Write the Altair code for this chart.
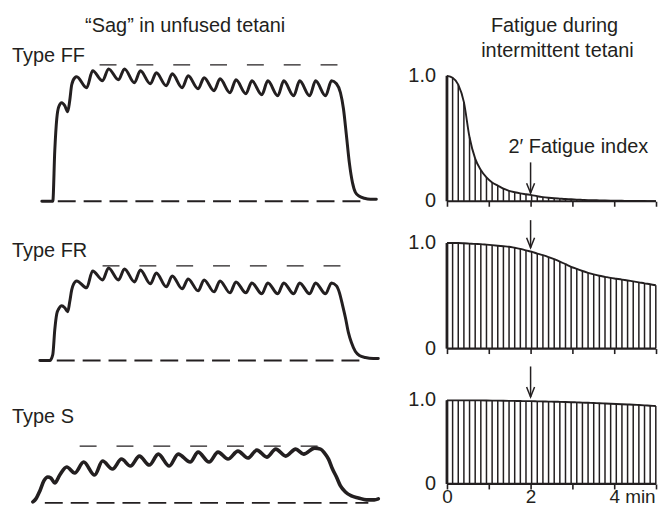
import altair as alt
import pandas as pd

INK = "#231f20"
FONT = "Liberation Sans"
FS = 20

# ---------------- Left column: unfused tetani (time and force in arbitrary units) ----------------
ff_time = [42, 53, 55, 57, 59, 62, 65, 68, 70, 72, 75,
           77, 87, 93, 103, 109, 119, 125, 135, 141, 151, 157, 167, 173, 183, 189, 199, 205, 215,
           221, 231, 237, 247, 253, 263, 269, 279, 285, 295, 301, 311, 317, 327, 333,
           338, 342, 345, 348, 351, 354, 357, 361, 366, 372, 378]
ff_force = [0, 0, 51, 83, 95, 99, 96, 90, 101, 117, 124,
            125, 114, 131, 121, 133, 122, 133, 119, 131, 118, 129, 116, 128, 114, 126, 113, 124, 111,
            123, 109, 122, 108, 121, 107, 121, 106, 121, 106, 121, 106, 121, 106, 121,
            118, 109, 93, 66, 38, 19, 9, 5, 3, 2, 2]

fr_time = [40, 50, 53, 55, 57, 59, 62, 65, 68, 70, 72, 74,
           77, 87, 93, 103, 109, 119, 125, 135, 141, 151, 157, 167, 173, 183, 189, 199, 205, 215,
           221, 231, 237, 247, 253, 263, 269, 279, 285, 295, 301, 311, 317, 327, 333,
           338, 341, 344, 347, 350, 353, 357, 361, 367, 375, 380]
fr_force = [0, 0, 6, 31, 47, 52, 55, 53, 49, 59, 71, 77,
            80, 73, 90, 81, 93, 81, 92, 79, 91, 77, 88, 74, 85, 72, 82, 70, 81, 69,
            80, 68, 79, 68, 78, 67, 78, 67, 78, 67, 78, 67, 78, 67, 78,
            75, 68, 56, 43, 28, 18, 9, 5, 3, 2, 2]

s_time = [33, 36, 40, 44, 48, 51, 55, 60,
          67, 75, 84, 95, 103, 113, 122, 131, 140, 150,
          159, 170, 179, 191, 199, 210, 219, 229, 239, 249,
          258, 268, 277, 287, 297, 305, 316,
          322, 326, 330, 334, 338, 342, 347, 353, 360, 368, 376, 380]
s_force = [1, 4, 12, 22, 26, 25, 20, 28,
           36, 30, 41, 28, 42, 34, 44, 37, 47, 38,
           49, 37, 49, 41, 51, 41, 51, 44, 52, 45,
           53, 46, 54, 47, 54, 49, 55,
           54, 50, 44, 34, 26, 17, 11, 7, 5, 3, 3, 4]

# reference (dashed) levels: initial peak level and baseline, with their time spans
ff_peak_level, ff_peak_span, ff_base_span = 137, [100, 342], [58, 363]
fr_peak_level, fr_peak_span, fr_base_span = 95, [103, 343], [57, 362]
s_peak_level, s_peak_span, s_base_span = 57, [80, 323], [45, 370]

# ---------------- Right column: fatigue during intermittent tetani ----------------
bar_t = [0, 0.135, 0.27, 0.405, 0.54, 0.675, 0.81, 0.945, 1.08, 1.215, 1.35, 1.485, 1.62,
         1.755, 1.89, 2.025, 2.16, 2.295, 2.43, 2.565, 2.7, 2.835, 2.97, 3.105, 3.24, 3.375,
         3.51, 3.645, 3.78, 3.915, 4.05, 4.185, 4.32, 4.455, 4.59, 4.725, 4.86, 4.995]
ff_bars = [1.0, 0.985, 0.93, 0.79, 0.51, 0.34, 0.25, 0.19, 0.15, 0.125, 0.10, 0.083, 0.072,
           0.063, 0.056, 0.049, 0.04, 0.033, 0.028, 0.024, 0.021, 0.018, 0.016, 0.013, 0.011, 0.009,
           0.008, 0.007, 0.006, 0.005, 0.004, 0.004, 0.003, 0.003, 0.002, 0.002, 0.001, 0.001]
fr_bars = [1.0, 1.0, 1.0, 0.998, 0.995, 0.992, 0.99, 0.985, 0.98, 0.975, 0.97, 0.965, 0.955,
           0.945, 0.93, 0.918, 0.90, 0.885, 0.867, 0.847, 0.825, 0.80, 0.775, 0.755, 0.735, 0.718,
           0.703, 0.69, 0.68, 0.67, 0.662, 0.654, 0.645, 0.637, 0.628, 0.618, 0.61, 0.60]
s_bars = [1.0, 1.0, 1.0, 1.0, 1.0, 1.0, 0.999, 0.998, 0.997, 0.996, 0.995, 0.994, 0.993,
          0.992, 0.99, 0.99, 0.988, 0.987, 0.985, 0.984, 0.982, 0.98, 0.978, 0.976, 0.973, 0.971,
          0.968, 0.966, 0.963, 0.96, 0.957, 0.954, 0.951, 0.948, 0.944, 0.94, 0.936, 0.932]

x_ticks = [0, 1, 2, 3, 4, 5]
y_tick_values = [0, 1.0]
y_tick_labels = ["0", "1.0"]
index_time = 2  # 2-minute fatigue index
arrow_top = [0.31, 1.217, 1.405]
arrow_tip = [0.065, 0.955, 1.04]


def txt(label, x, y, align="left", baseline="middle", size=FS):
    return alt.Chart(pd.DataFrame({"s": [label]})).mark_text(
        font=FONT, fontSize=size, color=INK, align=align, baseline=baseline
    ).encode(x=alt.value(x), y=alt.value(y), text="s:N")


def left_panel(t, f, peak_level, peak_span, base_span, ydom, height, lw, texts):
    xs = alt.Scale(domain=[8, 388], nice=False, zero=False)
    ys = alt.Scale(domain=ydom, nice=False, zero=False)
    trace = alt.Chart(pd.DataFrame({"t": t, "f": f})).mark_line(
        interpolate="monotone", color=INK, strokeWidth=lw, strokeCap="round", strokeJoin="round"
    ).encode(x=alt.X("t:Q", scale=xs, axis=None), y=alt.Y("f:Q", scale=ys, axis=None))
    top = alt.Chart(pd.DataFrame({"a": [peak_span[0]], "b": [peak_span[1]], "lv": [peak_level]})).mark_rule(
        color=INK, strokeWidth=1.3, strokeDash=[17, 20]
    ).encode(x=alt.X("a:Q", scale=xs, axis=None), x2="b:Q", y=alt.Y("lv:Q", scale=ys, axis=None))
    base = alt.Chart(pd.DataFrame({"a": [base_span[0]], "b": [base_span[1]], "lv": [0]})).mark_rule(
        color=INK, strokeWidth=2, strokeDash=[18, 8]
    ).encode(x=alt.X("a:Q", scale=xs, axis=None), x2="b:Q", y=alt.Y("lv:Q", scale=ys, axis=None))
    layers = [base, top, trace] + texts
    return alt.layer(*layers).properties(width=380, height=height)


def right_panel(vals, height, ymax, k, show_labels, texts):
    xs = alt.Scale(domain=[-1.452, 5.024], nice=False, zero=False)
    ys = alt.Scale(domain=[0, ymax], nice=False, zero=False)
    axis_kw = dict(values=x_ticks, domain=False, ticks=True, tickSize=5, tickWidth=1.6,
                   tickColor=INK, grid=False, title=None, labels=show_labels)
    if show_labels:
        axis_kw.update(labelExpr="datum.value % 2 == 0 && datum.value < 5 ? datum.value : ''",
                       labelFont=FONT, labelFontSize=19, labelColor=INK, labelPadding=-1,
                       labelFlush=False, labelOverlap=False)
    ax = alt.Axis(**axis_kw)
    X = lambda f: alt.X(f, scale=xs, axis=ax)
    Y = lambda f: alt.Y(f, scale=ys, axis=None)
    df = pd.DataFrame({"t": bar_t, "v": vals})
    bars = alt.Chart(df).mark_rule(color=INK, strokeWidth=1.5).encode(
        x=X("t:Q"), y=Y("v:Q"), y2=alt.datum(0))
    first = alt.Chart(df).transform_filter("datum.t == 0").mark_rule(color=INK, strokeWidth=2.8).encode(
        x=X("t:Q"), y=Y("v:Q"), y2=alt.datum(0))
    env = alt.Chart(df).mark_line(interpolate="monotone", color=INK, strokeWidth=1.9).encode(
        x=X("t:Q"), y=Y("v:Q"))
    axis_df = pd.DataFrame({"a": [x_ticks[0]], "b": [x_ticks[-1]], "lv": [0]})
    baseline = alt.Chart(axis_df).mark_rule(color=INK, strokeWidth=2.2).encode(
        x=X("a:Q"), x2="b:Q", y=Y("lv:Q"))
    ylab = alt.Chart(pd.DataFrame({"v": y_tick_values, "s": y_tick_labels})).mark_text(
        font=FONT, fontSize=FS, color=INK, align="right", baseline="middle"
    ).encode(x=alt.value(50), y=Y("v:Q"), text="s:N")
    arr_df = pd.DataFrame({"t": [index_time], "top": [arrow_top[k]], "tip": [arrow_tip[k]]})
    shaft = alt.Chart(arr_df).mark_rule(color=INK, strokeWidth=1.5).encode(
        x=X("t:Q"), y=Y("top:Q"), y2="tip:Q")
    head = alt.Chart(arr_df).mark_point(
        shape="M-0.4,-1L0,0L0.4,-1", filled=False, size=400, color=INK, strokeWidth=1.5, opacity=1
    ).encode(x=X("t:Q"), y=Y("tip:Q"))
    layers = [bars, first, baseline, env, ylab, shaft, head] + texts
    return alt.layer(*layers).properties(width=272, height=height)


l1 = left_panel(ff_time, ff_force, ff_peak_level, ff_peak_span, ff_base_span, [-14, 193], 207, 3.0,
                [txt("\u201cSag\u201d in unfused tetani", 178, 17, "center"), txt("Type FF", 4, 47)])
l2 = left_panel(fr_time, fr_force, fr_peak_level, fr_peak_span, fr_base_span, [-19, 146], 165, 3.0,
                [txt("Type FR", 4, 36)])
l3 = left_panel(s_time, s_force, s_peak_level, s_peak_span, s_base_span, [-2, 124], 126, 3.6,
                [txt("Type S", 4, 38)])

r1 = right_panel(ff_bars, 193, 1.5317, 0, False,
                 [txt("Fatigue during", 169, 17, "center"), txt("intermittent tetani", 172, 42, "center"),
                  txt("2\u2032 Fatigue index", 193, 139, "center")])
r2 = right_panel(fr_bars, 148, 1.396, 1, False, [])
r3 = right_panel(s_bars, 136, 1.619, 2, True, [txt("min", 240, 140, "left", "top", 19)])

left_col = alt.vconcat(l1, l2, l3, spacing=0, bounds="flush")
right_col = alt.vconcat(r1, r2, r3, spacing=0, bounds="flush")
chart = alt.hconcat(left_col, right_col, spacing=0, bounds="full").properties(
    padding=0
).configure_view(stroke=None)

chart.save("out.html", embed_options={"renderer": "svg", "actions": False})
